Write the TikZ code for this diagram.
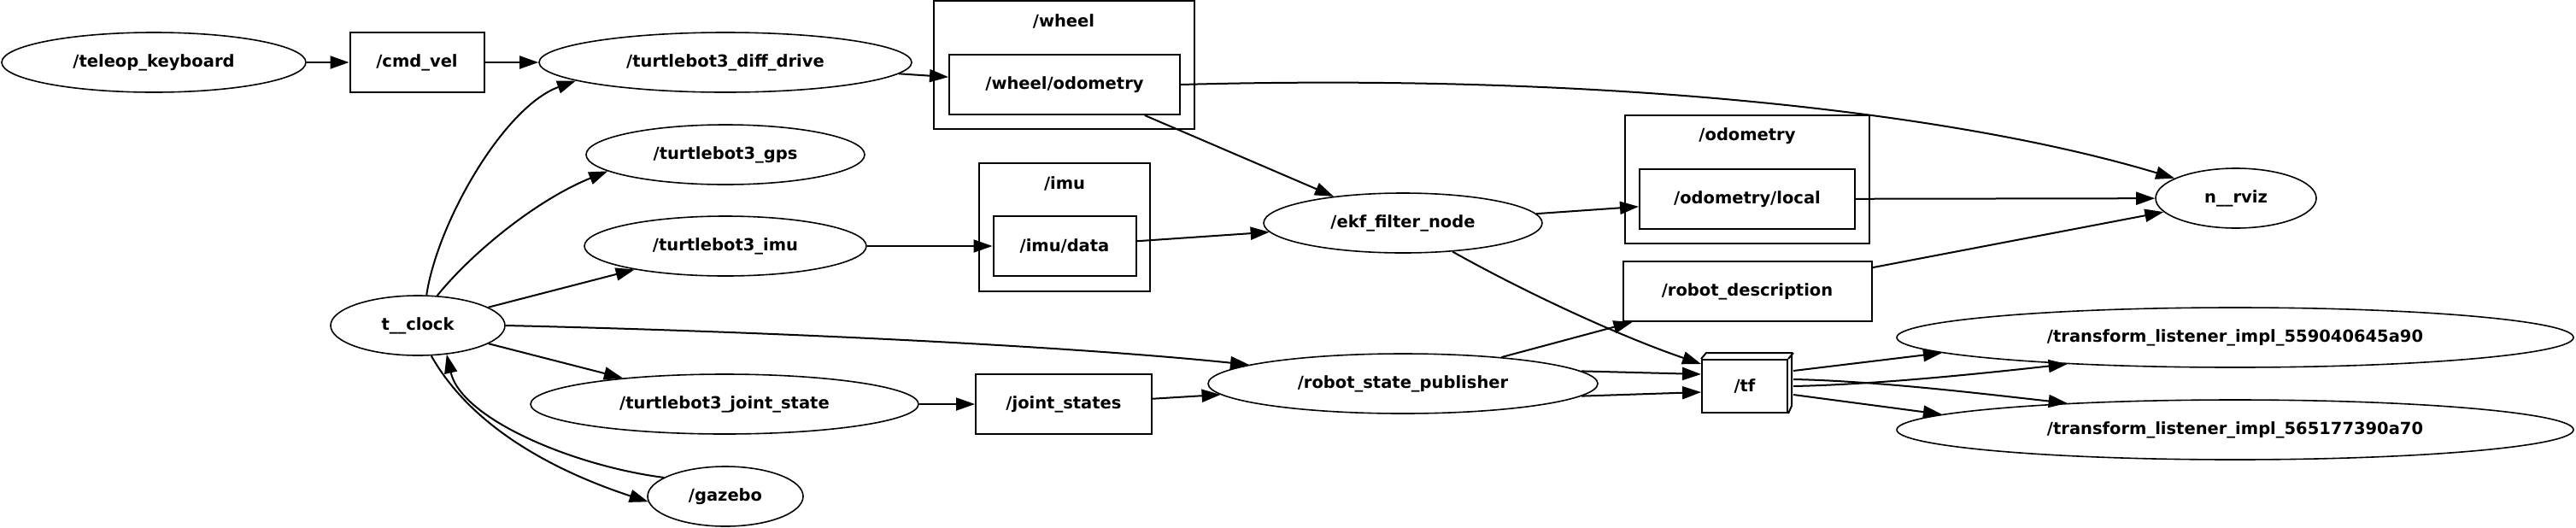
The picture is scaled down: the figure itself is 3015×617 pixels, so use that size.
\documentclass[tikz,border=0pt]{standalone}
\usepackage{fontspec}
\setmainfont{DejaVu Sans}
\usetikzlibrary{arrows.meta,shapes.geometric,calc}
\begin{document}
\begin{tikzpicture}[x=0.5pt,y=-0.5pt,
  font=\fontsize{9.75}{11}\selectfont\bfseries,
  every node/.style={inner sep=0pt},
  nd/.style={draw, ellipse, line width=0.8pt, minimum height=35pt},
  tp/.style={draw, rectangle, line width=1pt, minimum height=35pt},
  cl/.style={draw, line width=1pt},
  ed/.style={line width=1pt, -{Triangle[length=11pt,width=7.5pt]}},
]
\useasboundingbox (0,0) rectangle (3015,617);
% clusters
\draw[cl] (1093,1) rectangle (1398,151);
\node (wheelL) at (1245,25) {/wheel};
\draw[cl] (1146,191) rectangle (1346,341);
\node (imuL) at (1246,215) {/imu};
\draw[cl] (1902,135) rectangle (2188,285);
\node (odoL) at (2045,159) {/odometry};
% nodes
\node[nd, minimum width=178pt] (teleop) at (180,73) {/teleop\_keyboard};
\node[tp, minimum width=78.5pt] (cmd) at (488,73) {/cmd\_vel};
\node[nd, minimum width=218pt] (diff) at (849,73) {/turtlebot3\_diff\_drive};
\node[nd, minimum width=163pt] (gps) at (849,181) {/turtlebot3\_gps};
\node[nd, minimum width=165pt] (imunode) at (849,288) {/turtlebot3\_imu};
\node[nd, minimum width=102pt] (clock) at (489,381) {t\_\_clock};
\node[nd, minimum width=227pt] (jstate) at (848,473) {/turtlebot3\_joint\_state};
\node[nd, minimum width=91pt] (gazebo) at (849,581) {/gazebo};
\node[tp, minimum width=135pt] (wodom) at (1246,99) {/wheel/odometry};
\node[tp, minimum width=83.5pt] (imudata) at (1246,288) {/imu/data};
\node[tp, minimum width=103pt] (jstates) at (1245,473) {/joint\_states};
\node[nd, minimum width=163pt] (ekf) at (1642,261) {/ekf\_filter\_node};
\node[nd, minimum width=228pt] (rsp) at (1642,449) {/robot\_state\_publisher};
\node[tp, minimum width=126pt] (odolocal) at (2045,233) {/odometry/local};
\node[tp, minimum width=145.5pt] (robdesc) at (2045,341) {/robot\_description};
\node[tp, minimum width=50pt, minimum height=31pt] (tf) at (2042,452) {/tf};
\draw[line width=1pt] (tf.north west) -- ++(6,-7) -- ++(100,0) -- ++(0,62) -- (tf.south east);
\draw[line width=1pt] (tf.north east) -- ++(6,-7);
\node[nd, minimum width=94pt] (rviz) at (2617,232) {n\_\_rviz};
\node[nd, minimum width=396pt] (tl1) at (2616,395) {/transform\_listener\_impl\_559040645a90};
\node[nd, minimum width=396pt] (tl2) at (2616,503) {/transform\_listener\_impl\_565177390a70};
% edges
\draw[ed] (teleop) -- (cmd);
\draw[ed] (cmd) -- (diff);
\draw[ed] (diff) -- (wodom);
\draw[ed] (wodom.east) .. controls (1900,85) and (2300,135) .. (rviz.162);
\draw[ed] (wodom.-21) -- (ekf.159);
\draw[ed] (imunode) -- (imudata);
\draw[ed] (imudata) -- (ekf);
\draw[ed] (ekf) -- (odolocal);
\draw[ed] (odolocal) -- (rviz);
\draw[ed] (robdesc) -- (rviz);
\draw[ed] (ekf.-30) .. controls (1790,345) and (1900,395) .. ([shift={(0,-26)}]tf.west);
\draw[ed] (rsp.15) -- ([shift={(12,0)}]robdesc.south west);
\draw[ed] (rsp.4) -- ([shift={(0,-14)}]tf.west);
\draw[ed] (rsp.-4) -- ([shift={(0,7)}]tf.west);
\draw[ed] (jstate) -- (jstates);
\draw[ed] (jstates) -- (rsp);
\draw[ed] (clock.east) .. controls (900,388) and (1250,405) .. (rsp.173);
\draw[ed] (clock.74) .. controls (512,260) and (590,125) .. (diff.187);
\draw[ed] (clock.57) .. controls (552,296) and (628,234) .. (gps.188);
\draw[ed] (clock) -- (imunode);
\draw[ed] (clock) -- (jstate);
\draw[ed] (clock.-66) .. controls (554,504) and (657,554) .. (gazebo.184);
\draw[ed] (gazebo.163) .. controls (670,545) and (540,490) .. (clock.-45);
\draw[ed] ([shift={(6,-18)}]tf.east) -- (tl1.183);
\draw[ed] ([shift={(6,0)}]tf.east) .. controls (2200,450) and (2330,436) .. (tl1.189);
\draw[ed] ([shift={(6,-8)}]tf.east) .. controls (2200,446) and (2330,462) .. (tl2.171);
\draw[ed] ([shift={(6,10)}]tf.east) -- (tl2.177);
\end{tikzpicture}
\end{document}
